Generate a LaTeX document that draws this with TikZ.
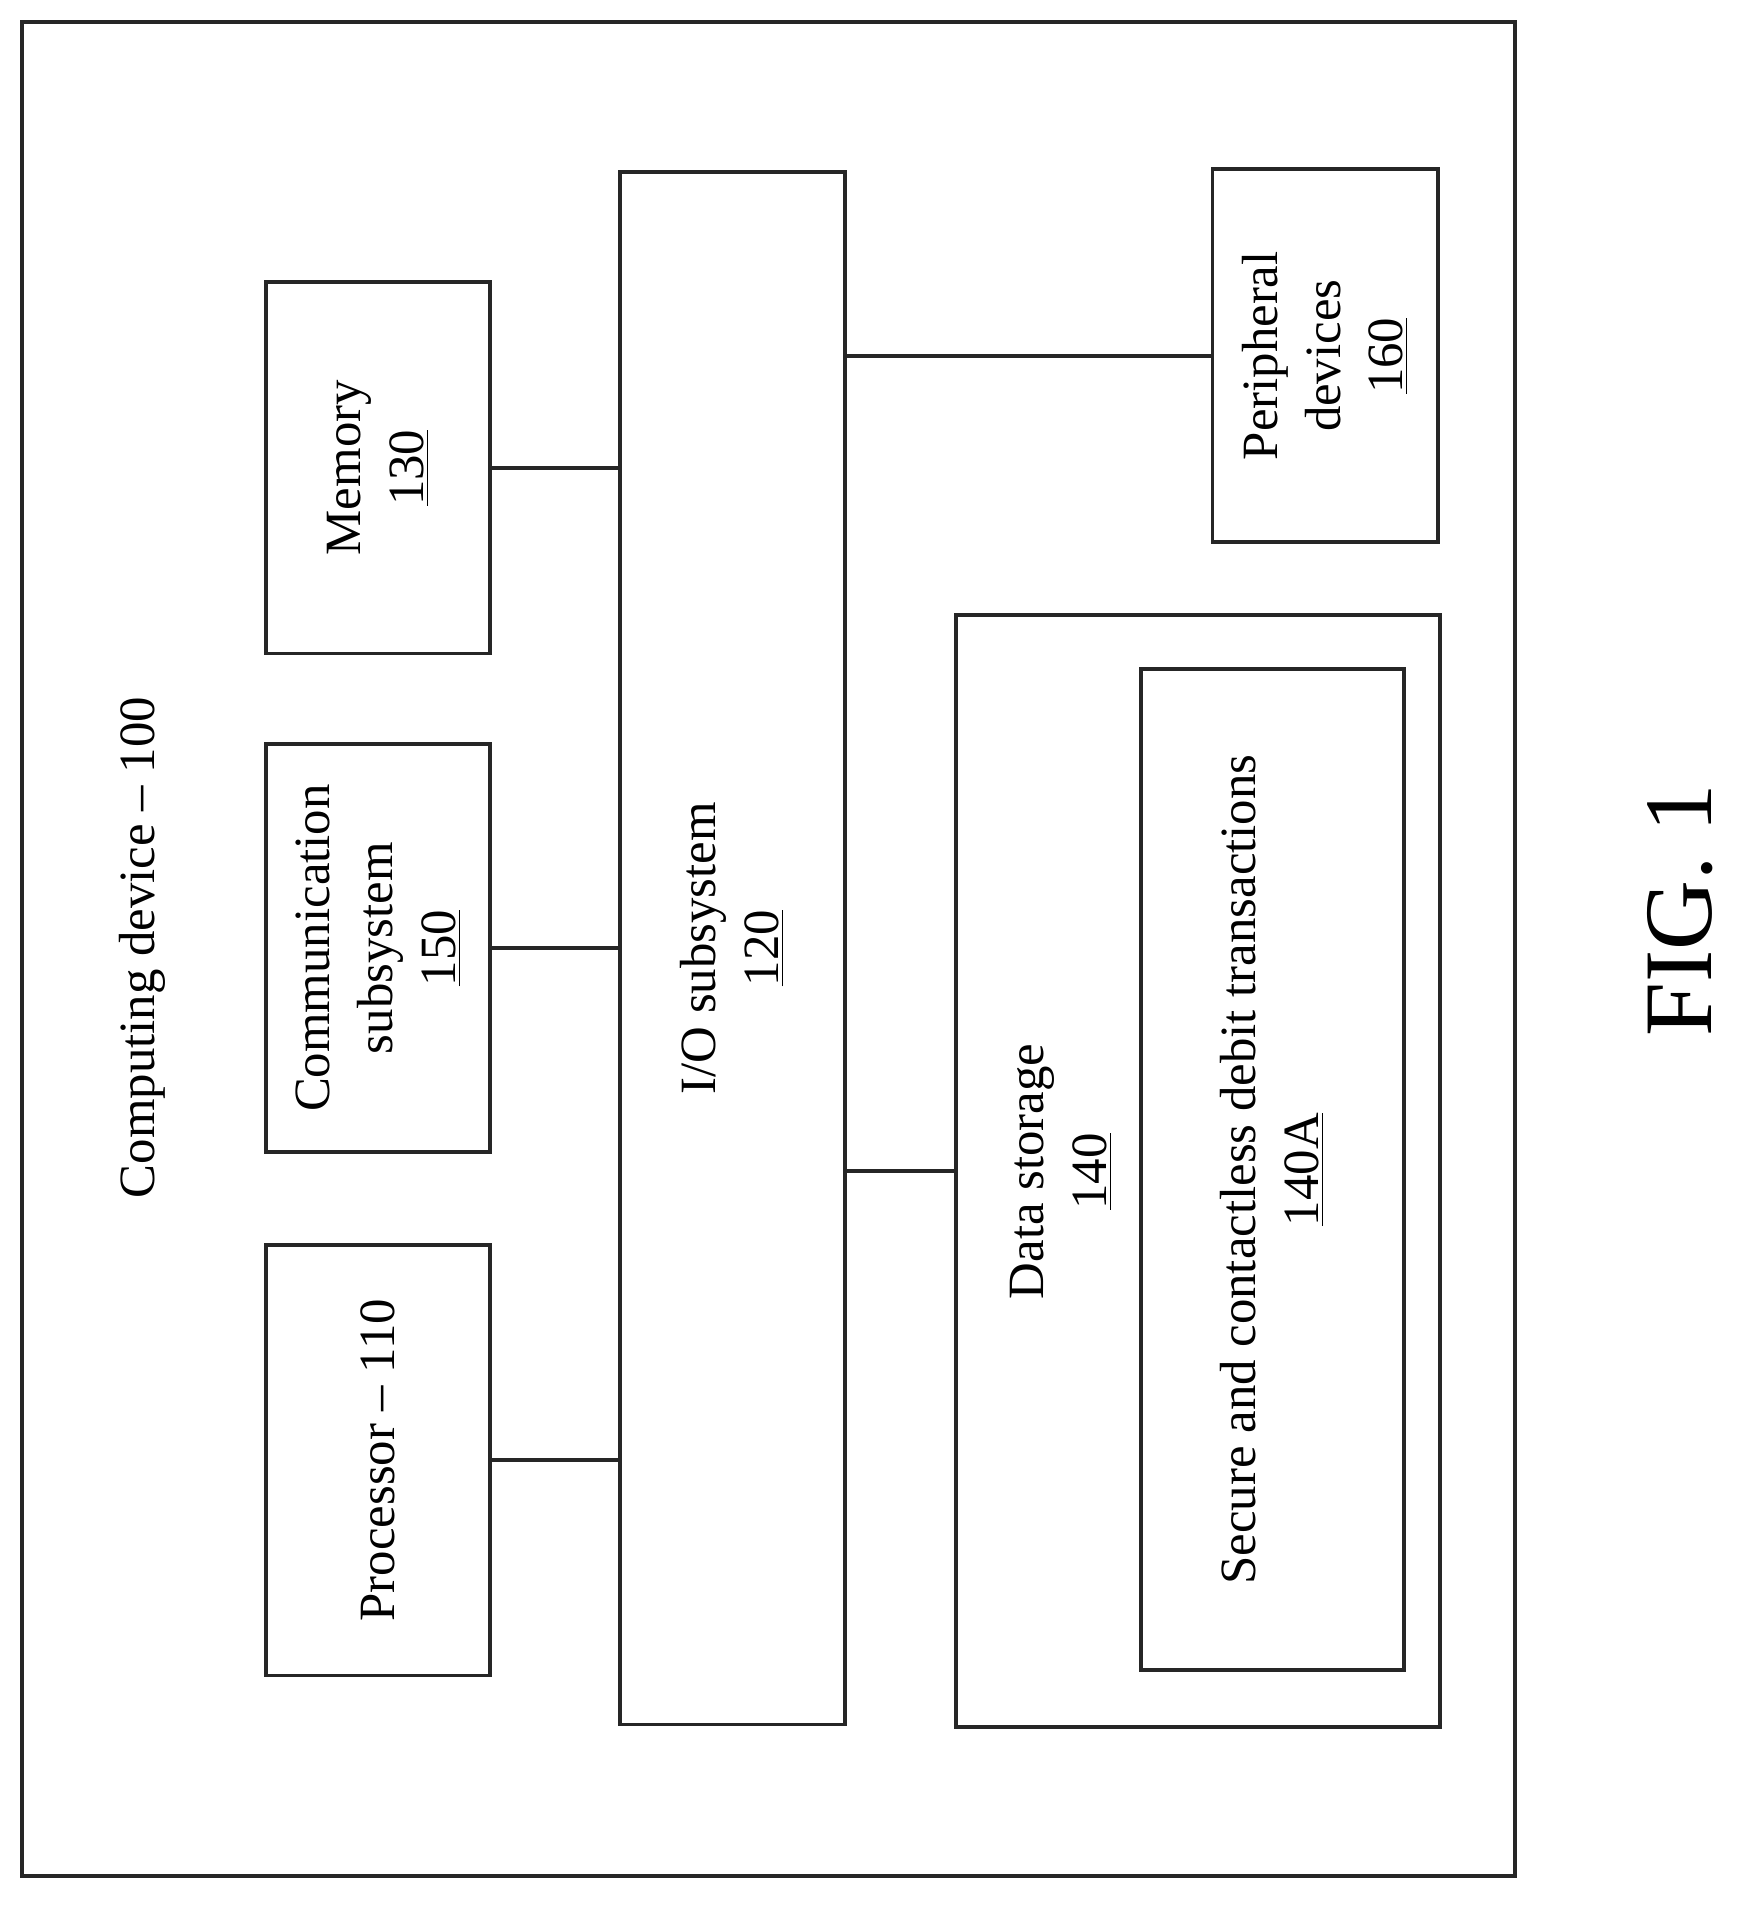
\documentclass[tikz,border=0pt]{standalone}
\usepackage{fontspec}
\setmainfont{Liberation Serif}
\begin{document}
\begin{tikzpicture}[x=0.5pt,y=-0.5pt,
  box/.style={draw=black!85,line width=1.6pt,rotate=90,align=center,font=\fontsize{21}{26}\selectfont,inner sep=0pt},
  conn/.style={draw=black!85,line width=1.6pt}]
\useasboundingbox (0,0) rectangle (1440,1580);
\draw[line width=1.6pt,black!85] (18,18) rectangle (1252,1550);
\node[rotate=90,font=\fontsize{21}{26}\selectfont] (title) at (118,783) {Computing device -- 100};
\node[box,minimum width=178pt,minimum height=92.5pt] (proc) at (312.5,1206.5) {Processor -- 110};
\node[box,minimum width=168.5pt,minimum height=92.5pt] (comm) at (312.5,783.5) {Communication\\subsystem\\\underline{150}};
\node[box,minimum width=153.5pt,minimum height=92.5pt] (mem) at (312.5,386.5) {Memory\\\underline{130}};
\node[box,minimum width=641.5pt,minimum height=93pt] (io) at (605,783.5) {I/O subsystem\\\underline{120}};
\node[box,minimum width=154pt,minimum height=93pt] (per) at (1095,294) {Peripheral\\devices\\\underline{160}};
\node[box,minimum width=459.5pt,minimum height=200pt] (ds) at (990,967.5) {};
\node[rotate=90,align=center,font=\fontsize{21}{26}\selectfont] (dsl) at (877,968) {Data storage\\\underline{140}};
\node[box,minimum width=413.5pt,minimum height=108.5pt] (sec) at (1051.5,966.5) {Secure and contactless debit transactions\\\underline{140A}};
\node[rotate=90,font=\fontsize{40}{48}\selectfont] (fig) at (1388,752) {FIG. 1};
\draw[conn] (proc.center) ++(92.5,0) coordinate (p1) (p1) -- (io.north |- proc.center);
\draw[conn] (comm.south) -- (io.north |- comm.south);
\draw[conn] (mem.south) -- (io.north |- mem.south);
\draw[conn] (io.south |- per.north) -- (per.north);
\draw[conn] (io.south |- ds.north) -- (ds.north);
\end{tikzpicture}
\end{document}
